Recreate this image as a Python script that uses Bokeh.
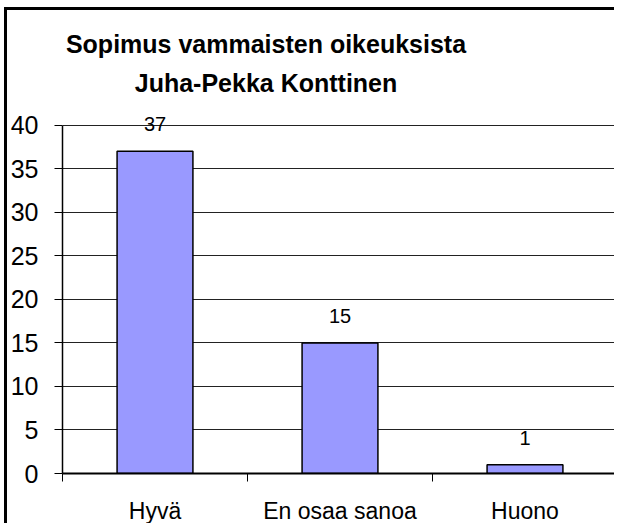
from bokeh.plotting import figure
from bokeh.models import ColumnDataSource, Range1d, FixedTicker, Label, LabelSet
from bokeh.core.properties import value
from bokeh.embed import file_html
from bokeh.resources import INLINE

# ---- data ----
categories = ["Hyvä", "En osaa sanoa", "Huono"]
counts = [37, 15, 1]
y_ticks = [0, 5, 10, 15, 20, 25, 30, 35, 40]
title_lines = ["Sopimus vammaisten oikeuksista", "Juha-Pekka Konttinen"]

FONT = "Liberation Sans"

x_pos = [i + 0.5 for i in range(len(categories))]
boundaries = list(range(len(categories) + 1))

src = ColumnDataSource(data=dict(x=x_pos, v=counts, lab=[str(c) for c in counts]))

# frame spans the full canvas height; title lives inside the top of the frame
p = figure(width=610, height=516,
           x_range=Range1d(0, len(categories)), y_range=Range1d(0, 53.17),
           output_backend="svg", toolbar_location=None,
           min_border_left=54, min_border_right=0,
           min_border_top=0, min_border_bottom=52,
           styles={"border-left": "3px solid black", "border-top": "3px solid black",
                   "margin-left": "4px", "margin-top": "7px"})

p.background_fill_color = "white"
p.border_fill_color = "white"
p.outline_line_color = None

p.vbar(x="x", top="v", width=0.41, source=src,
       fill_color="#9999FF", line_color="black", line_width=1.5)

labels = LabelSet(x="x", y="v", text="lab", source=src, y_offset=20,
                  text_align="center", text_baseline="alphabetic",
                  text_font=value(FONT), text_font_size="20px", text_color="black")
p.add_layout(labels)

# x axis
xa = p.xaxis[0]
xa.ticker = FixedTicker(ticks=x_pos, minor_ticks=boundaries)
xa.major_label_overrides = {x: c for x, c in zip(x_pos, categories)}
xa.major_tick_line_color = None
xa.major_tick_out = 0
xa.major_tick_in = 0
xa.minor_tick_line_color = "black"
xa.minor_tick_out = 8
xa.minor_tick_in = 0
xa.axis_line_color = "black"
xa.axis_line_width = 2
xa.major_label_text_font = FONT
xa.major_label_text_font_size = "23px"
xa.major_label_text_color = "black"
xa.major_label_standoff = 16

# y axis
ya = p.yaxis[0]
ya.ticker = FixedTicker(ticks=y_ticks)
ya.bounds = (y_ticks[0], y_ticks[-1])
ya.major_tick_out = 8
ya.major_tick_in = 0
ya.major_tick_line_color = "black"
ya.minor_tick_line_color = None
ya.axis_line_color = "black"
ya.axis_line_width = 1.5
ya.major_label_text_font = FONT
ya.major_label_text_font_size = "25px"
ya.major_label_text_color = "black"
ya.major_label_standoff = 16

p.xgrid.visible = False
p.ygrid.ticker = FixedTicker(ticks=y_ticks)
p.ygrid.grid_line_color = "#222222"
p.ygrid.grid_line_width = 1

title_y = [49.32, 44.86]
for t, ty in zip(title_lines, title_y):
    p.add_layout(Label(x=1.10, y=ty, text=t, text_align="center", text_baseline="alphabetic",
                       text_font=FONT, text_font_size="25px", text_font_style="bold",
                       text_color="black"))

open("out.html", "w").write(file_html(p, INLINE))
